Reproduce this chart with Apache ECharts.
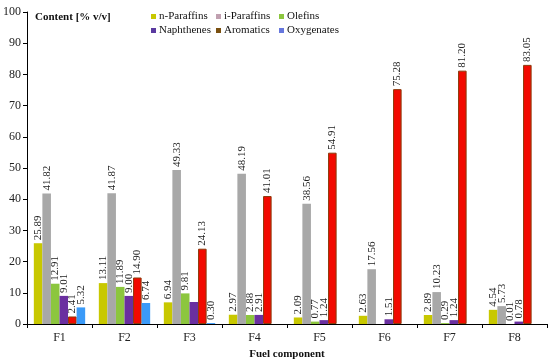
<!DOCTYPE html>
<html><head><meta charset="utf-8">
<script src="https://cdn.jsdelivr.net/npm/echarts@6/dist/echarts.min.js"></script>
<style>html,body{margin:0;padding:0;background:#fff}#c{width:550px;height:359px}</style>
</head><body><div id="c"></div>
<script>
const categories = ['F1','F2','F3','F4','F5','F6','F7','F8'];
const nParaffins = [25.89, 13.11, 6.94, 2.97, 2.09, 2.63, 2.89, 4.54];
const iParaffins = [41.82, 41.87, 49.33, 48.19, 38.56, 17.56, 10.23, 5.73];
const olefins    = [12.91, 11.89, 9.81, 2.88, 0.77, null, 0.29, 0.01];
const naphthenes = [9.01, 9.00, 7.05, 2.91, 1.24, 1.51, 1.24, 0.78];
const aromatics  = [2.41, 14.90, 24.13, 41.01, 54.91, 75.28, 81.20, 83.05];
const oxygenates = [5.32, 6.74, 0.30, null, null, null, null, null];
const hiddenLabels = {Naphthenes: [2]};
const yTicks = [0,10,20,30,40,50,60,70,80,90,100];

const serif = '"Liberation Serif", "DejaVu Serif", serif';
const defs = [
  {name:'n-Paraffins', data:nParaffins, color:'#c8c800', legend:'#c8c800'},
  {name:'i-Paraffins', data:iParaffins, color:'#a8a8a8', legend:'#c0a0b0'},
  {name:'Olefins', data:olefins, color:'#8cc63e', legend:'#8cc63e'},
  {name:'Naphthenes', data:naphthenes, color:'#6a2fa0', legend:'#5a3aa0'},
  {name:'Aromatics', data:aromatics, color:'#f20a00', legend:'#7a5010', border:'#8b3a0a'},
  {name:'Oxygenates', data:oxygenates, color:'#3a9af8', legend:'#6677dd'}
];
const series = defs.map(d => ({
  name: d.name, type: 'bar', barGap: '0%', barCategoryGap: '21%',
  itemStyle: {color: d.color, borderColor: d.border || d.color, borderWidth: d.border ? 1 : 0},
  label: {show: true, rotate: 90, position: 'top', align: 'left', verticalAlign: 'middle', distance: 3,
    fontFamily: serif, fontSize: 11, color: '#222',
    formatter: p => p.value == null ? '' : Number(p.value).toFixed(2)},
  data: d.data.map((v, i) => (hiddenLabels[d.name] && hiddenLabels[d.name].includes(i)) ? {value: v, label: {show: false}} : v)
}));
const legendCol = (items, left) => ({
  orient: 'vertical', left: left, top: 11, itemWidth: 5, itemHeight: 5, itemGap: 3, padding: 0,
  icon: 'rect', textStyle: {fontFamily: serif, fontSize: 11, color: '#111', padding: [0,0,0,-2]},
  data: items.map(d => ({name: d.name, itemStyle: {color: d.legend, borderWidth: 0}}))
});
const chart = echarts.init(document.getElementById('c'));
chart.setOption({
  animation: false,
  grid: {left: 27, right: 3, top: 12, bottom: 35, outerBoundsMode: 'none', containLabel: false},
  legend: [legendCol([defs[0], defs[3]], 151), legendCol([defs[1], defs[4]], 216), legendCol([defs[2], defs[5]], 279)],
  graphic: [{type: 'text', left: 35, top: 12, style: {text: 'Content [% v/v]', font: 'bold 11px ' + serif, fill: '#111'}}],
  xAxis: {type: 'category', data: categories, name: 'Fuel component', nameLocation: 'middle', nameGap: 24,
    nameTextStyle: {fontFamily: serif, fontSize: 11, fontWeight: 'bold', color: '#111'},
    axisLine: {lineStyle: {color: '#000'}}, axisTick: {show: true, inside: false, length: 4, lineStyle: {color: '#000'}},
    axisLabel: {fontFamily: serif, fontSize: 12, color: '#222', margin: 8}},
  yAxis: {type: 'value', min: 0, max: 100, interval: 10, splitLine: {show: false},
    axisLine: {show: true, lineStyle: {color: '#000'}}, axisTick: {show: true, length: 4, lineStyle: {color: '#000'}},
    axisLabel: {fontFamily: serif, fontSize: 12, color: '#222', margin: 6,
      formatter: v => yTicks.includes(v) ? String(v) : ''}},
  series: series
});
</script></body></html>
